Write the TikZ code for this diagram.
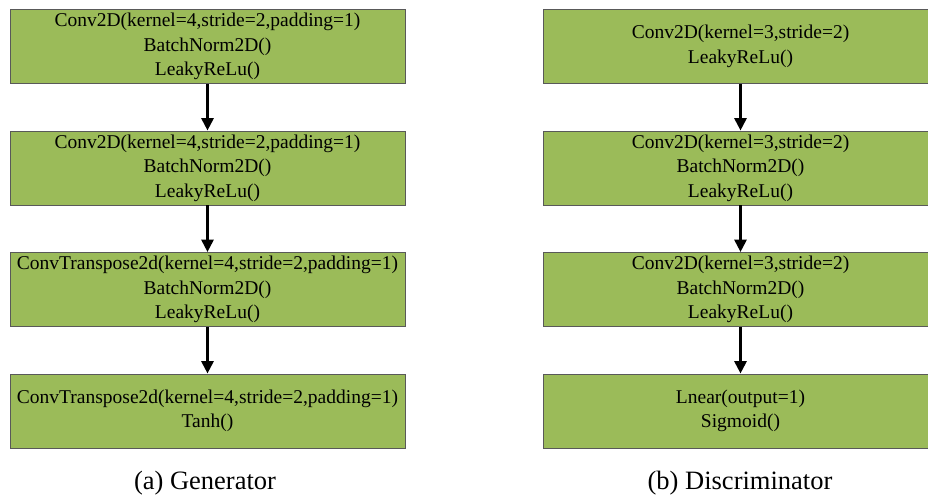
\documentclass[tikz,border=0pt]{standalone}
\usepackage{fontspec}
\setmainfont{Liberation Serif}
\usetikzlibrary{positioning,arrows.meta}
\definecolor{layergreen}{RGB}{155,187,89}
\tikzset{
  layer/.style={draw=black!65, fill=layergreen, line width=0.9pt,
    minimum width=395pt, minimum height=74pt, align=center,
    font=\fontsize{19.5}{24.5}\selectfont},
  flow/.style={line width=3pt, -{Triangle[length=12.5pt,width=12pt]}},
  caption/.style={font=\fontsize{26.5}{30}\selectfont}
}

\begin{document}
\begin{tikzpicture}[x=1pt, y=-1pt, on grid, node distance=121.5pt]
         \clip (0,0) rectangle (928,495);
         % generator
         \node[layer](G1) at (207.5,46.5) {Conv2D(kernel=4,stride=2,padding=1)\\BatchNorm2D()\\LeakyReLu()};
         \node[layer](G2) [below = of G1] {Conv2D(kernel=4,stride=2,padding=1)\\BatchNorm2D()\\LeakyReLu()};
         \node[layer](G3) [below = of G2] {ConvTranspose2d(kernel=4,stride=2,padding=1)\\BatchNorm2D()\\LeakyReLu()};
         \node[layer](G4) [below = of G3] {ConvTranspose2d(kernel=4,stride=2,padding=1)\\Tanh()};
         \node[caption](Gcap) at (205,483) {(a) Generator};
         % discriminator
         \node[layer](D1) at (740.5,46.5) {Conv2D(kernel=3,stride=2)\\LeakyReLu()};
         \node[layer](D2) [below = of D1] {Conv2D(kernel=3,stride=2)\\BatchNorm2D()\\LeakyReLu()};
         \node[layer](D3) [below = of D2] {Conv2D(kernel=3,stride=2)\\BatchNorm2D()\\LeakyReLu()};
         \node[layer](D4) [below = of D3] {Lnear(output=1)\\Sigmoid()};
         \node[caption](Dcap) at (740,483) {(b) Discriminator};
         \draw[flow](G1) -- (G2);
         \draw[flow](G2) -- (G3);
         \draw[flow](G3) -- (G4);
         \draw[flow](D1) -- (D2);
         \draw[flow](D2) -- (D3);
         \draw[flow](D3) -- (D4);
     \end{tikzpicture}
\end{document}
